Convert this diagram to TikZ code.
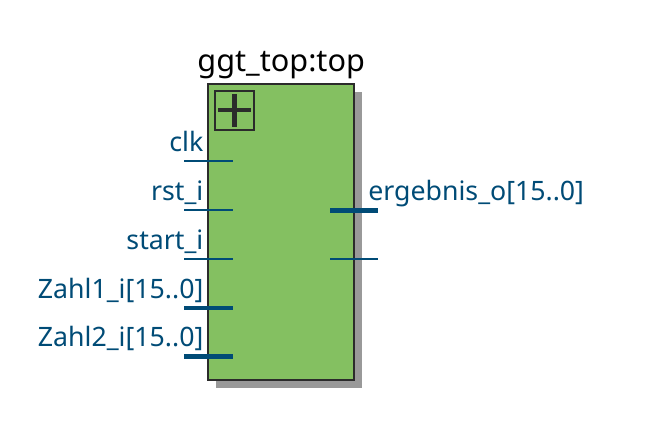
\documentclass[tikz,border=0pt]{standalone}
\usepackage{fontspec}
\setmainfont{Noto Sans}
\usetikzlibrary{positioning,calc}
\definecolor{pinblue}{HTML}{004B76}
\definecolor{boxgreen}{HTML}{84C061}
\definecolor{boxedge}{HTML}{2B2B2B}
\definecolor{shadowgray}{HTML}{999999}
\tikzset{
  thinpin/.style={draw=pinblue,line width=0.05cm},
  buspin/.style={draw=pinblue,line width=0.11cm},
  pinlabel/.style={text=pinblue,font=\fontsize{19}{19}\selectfont,inner sep=0pt},
}
\begin{document}
\begin{tikzpicture}
\useasboundingbox (0,0) rectangle (16.2,11.125);
\fill[shadowgray] (5.4,1.42) rectangle (9.05,8.83);
\node[draw=boxedge,fill=boxgreen,line width=0.055cm,minimum width=3.65cm,minimum height=7.4cm,inner sep=0pt] (top) at (7.03,5.325) {};
\node[font=\fontsize{21.8}{21.8}\selectfont,inner sep=0pt,anchor=base] (title) at (7.03,9.34) {ggt\_top:top};
\node[draw=boxedge,line width=0.05cm,minimum size=0.98cm,inner sep=0pt] (expand) at (5.86,8.37) {};
\coordinate (plusL) at (5.45,8.37);
\coordinate (plusR) at (6.28,8.37);
\coordinate (plusT) at (5.86,8.78);
\coordinate (plusB) at (5.86,7.96);
\draw[boxedge,line width=0.11cm] (plusL) -- (plusR);
\draw[boxedge,line width=0.11cm] (plusT) -- (plusB);
\coordinate (clkA) at (4.6,7.09);
\coordinate (clkB) at (5.83,7.09);
\coordinate (rstA) at (4.6,5.87);
\coordinate (rstB) at (5.83,5.87);
\coordinate (startA) at (4.6,4.645);
\coordinate (startB) at (5.83,4.645);
\coordinate (zahlaA) at (4.6,3.43);
\coordinate (zahlaB) at (5.83,3.43);
\coordinate (zahlbA) at (4.6,2.21);
\coordinate (zahlbB) at (5.83,2.21);
\coordinate (ergA) at (8.25,5.86);
\coordinate (ergB) at (9.45,5.86);
\coordinate (outA) at (8.25,4.645);
\coordinate (outB) at (9.45,4.645);
\draw[thinpin] (clkA) -- (clkB);
\draw[thinpin] (rstA) -- (rstB);
\draw[thinpin] (startA) -- (startB);
\draw[buspin] (zahlaA) -- (zahlaB);
\draw[buspin] (zahlbA) -- (zahlbB);
\draw[buspin] (ergA) -- (ergB);
\draw[thinpin] (outA) -- (outB);
\node[pinlabel,anchor=base east] (clk) at (5.09,7.33) {clk};
\node[pinlabel,anchor=base east] (rst) at (5.09,6.11) {rst\_i};
\node[pinlabel,anchor=base east] (start) at (5.09,4.89) {start\_i};
\node[pinlabel,anchor=base east] (zahla) at (5.09,3.67) {Zahl1\_i[15..0]};
\node[pinlabel,anchor=base east] (zahlb) at (5.09,2.45) {Zahl2\_i[15..0]};
\node[pinlabel,anchor=base west] (erg) at (9.2,6.11) {ergebnis\_o[15..0]};
\end{tikzpicture}
\end{document}
